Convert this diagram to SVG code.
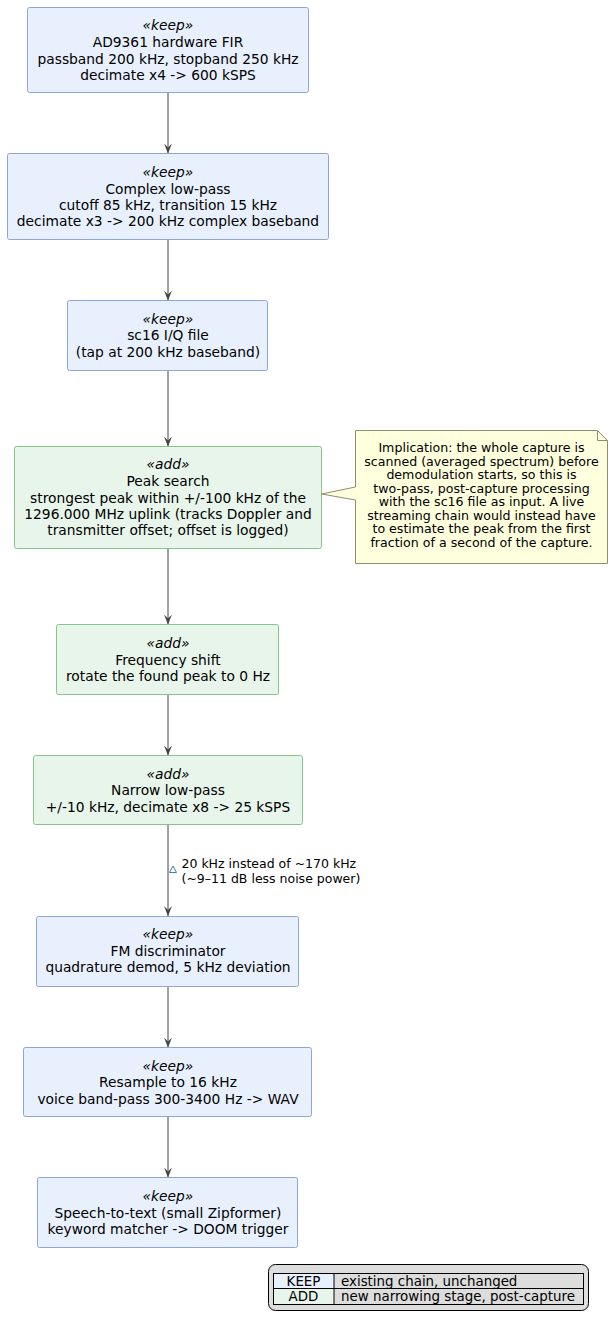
<svg xmlns="http://www.w3.org/2000/svg" width="613" height="1330" viewBox="0 0 613 1330">
<style>
text{font-family:"DejaVu Sans","Liberation Sans",sans-serif;fill:#000;}
.t{font-size:13.8px;text-anchor:middle;}
.st{font-size:13.8px;text-anchor:middle;font-style:italic;}
.keep{fill:#E8F0FD;stroke:#8DA6D6;stroke-width:1;}
.add{fill:#E8F5EA;stroke:#86C48E;stroke-width:1;}
.note{fill:#FEFFDD;stroke:#8F8F6E;stroke-width:1;}
.nt{font-size:12.6px;text-anchor:middle;}
.lbl{font-size:12.5px;}
.lg{font-size:13.4px;}
.edge{stroke:#444;stroke-width:1;fill:none;marker-end:url(#ah);}
</style>
<defs>
<marker id="ah" markerUnits="userSpaceOnUse" markerWidth="10" markerHeight="10" viewBox="0 0 10 10" refX="10" refY="5" orient="auto">
<path d="M0,1 L10,5 L0,9 L4,5 Z" fill="#444"/>
</marker>
</defs>
<rect width="613" height="1330" fill="#fff"/>
<g id="connectors">
<line class="edge" x1="168" y1="92.5" x2="168" y2="153.5"/>
<line class="edge" x1="168" y1="239.5" x2="168" y2="300.5"/>
<line class="edge" x1="168" y1="370.5" x2="168" y2="446.5"/>
<line class="edge" x1="168" y1="548.5" x2="168" y2="624.5"/>
<line class="edge" x1="168" y1="694.5" x2="168" y2="755.5"/>
<line class="edge" x1="168" y1="824.5" x2="168" y2="916"/>
<line class="edge" x1="168" y1="986.5" x2="168" y2="1047.5"/>
<line class="edge" x1="168" y1="1116.5" x2="168" y2="1177.5"/>
<polygon points="173,866 169.5,872.5 176.5,872.5" fill="none" stroke="#3B7BC0" stroke-width="1"/>
<text class="lbl" x="181.5" y="867.5">20 kHz instead of ~170 kHz</text>
<text class="lbl" x="181.5" y="882.5">(~9–11 dB less noise power)</text>
</g>
<g id="n1">
<rect class="keep" x="27.5" y="7.5" width="281" height="85" rx="2"/>
<text class="st" x="168" y="30">«keep»</text>
<text class="t" x="168" y="47">AD9361 hardware FIR</text>
<text class="t" x="168" y="64">passband 200 kHz, stopband 250 kHz</text>
<text class="t" x="168" y="80">decimate x4 -&gt; 600 kSPS</text>
</g>
<g id="n2">
<rect class="keep" x="7.5" y="153.5" width="321" height="86" rx="2"/>
<text class="st" x="168" y="177">«keep»</text>
<text class="t" x="168" y="193.5">Complex low-pass</text>
<text class="t" x="168" y="210">cutoff 85 kHz, transition 15 kHz</text>
<text class="t" x="168" y="226">decimate x3 -&gt; 200 kHz complex baseband</text>
</g>
<g id="n3">
<rect class="keep" x="67.5" y="300.5" width="200" height="70" rx="2"/>
<text class="st" x="168" y="324">«keep»</text>
<text class="t" x="168" y="340">sc16 I/Q file</text>
<text class="t" x="168" y="357">(tap at 200 kHz baseband)</text>
</g>
<g id="n4">
<rect class="add" x="14.5" y="446.5" width="307" height="102" rx="2"/>
<text class="st" x="168" y="468.5">«add»</text>
<text class="t" x="168" y="485.5">Peak search</text>
<text class="t" x="168" y="502.5">strongest peak within +/-100 kHz of the</text>
<text class="t" x="168" y="518.5">1296.000 MHz uplink (tracks Doppler and</text>
<text class="t" x="168" y="535">transmitter offset; offset is logged)</text>
</g>
<g id="note">
<path class="note" d="M355.5,430.5 H597.5 L607.5,440.5 V563.5 H355.5 V500 L321.5,494 L355.5,487 Z"/>
<path d="M597.5,430.5 V440.5 H607.5" fill="none" stroke="#8F8F6E" stroke-width="1"/>
<text class="nt" x="481.5" y="452">Implication: the whole capture is</text>
<text class="nt" x="481.5" y="465.5">scanned (averaged spectrum) before</text>
<text class="nt" x="481.5" y="479">demodulation starts, so this is</text>
<text class="nt" x="481.5" y="492.5">two-pass, post-capture processing</text>
<text class="nt" x="481.5" y="506">with the sc16 file as input. A live</text>
<text class="nt" x="481.5" y="519.5">streaming chain would instead have</text>
<text class="nt" x="481.5" y="533">to estimate the peak from the first</text>
<text class="nt" x="481.5" y="546.5">fraction of a second of the capture.</text>
</g>
<g id="n5">
<rect class="add" x="56.5" y="624.5" width="222" height="70" rx="2"/>
<text class="st" x="168" y="648">«add»</text>
<text class="t" x="168" y="664.5">Frequency shift</text>
<text class="t" x="168" y="680.5">rotate the found peak to 0 Hz</text>
</g>
<g id="n6">
<rect class="add" x="33.5" y="755.5" width="269" height="69" rx="2"/>
<text class="st" x="168" y="778.5">«add»</text>
<text class="t" x="168" y="794.5">Narrow low-pass</text>
<text class="t" x="168" y="811.5">+/-10 kHz, decimate x8 -&gt; 25 kSPS</text>
</g>
<g id="n7">
<rect class="keep" x="36.5" y="916.5" width="262" height="70" rx="2"/>
<text class="st" x="168" y="939">«keep»</text>
<text class="t" x="168" y="955.5">FM discriminator</text>
<text class="t" x="168" y="972">quadrature demod, 5 kHz deviation</text>
</g>
<g id="n8">
<rect class="keep" x="23.5" y="1047.5" width="288" height="69" rx="2"/>
<text class="st" x="168" y="1071">«keep»</text>
<text class="t" x="168" y="1087">Resample to 16 kHz</text>
<text class="t" x="168" y="1103.5">voice band-pass 300-3400 Hz -&gt; WAV</text>
</g>
<g id="n9">
<rect class="keep" x="37.5" y="1177.5" width="260" height="70" rx="2"/>
<text class="st" x="168" y="1200.5">«keep»</text>
<text class="t" x="168" y="1217.5">Speech-to-text (small Zipformer)</text>
<text class="t" x="168" y="1234">keyword matcher -&gt; DOOM trigger</text>
</g>
<g id="legend">
<rect x="268.5" y="1264.5" width="320" height="46" rx="7" fill="#DDDDDD" stroke="#000" stroke-width="1"/>
<rect x="273.5" y="1273.5" width="60.5" height="15" fill="#E8F0FD"/>
<rect x="273.5" y="1288.5" width="60.5" height="16" fill="#E8F5EA"/>
<rect x="273.5" y="1273.5" width="310" height="31" fill="none" stroke="#000" stroke-width="1"/>
<line x1="273.5" y1="1288.5" x2="583.5" y2="1288.5" stroke="#000" stroke-width="1"/>
<line x1="334" y1="1273.5" x2="334" y2="1304.5" stroke="#000" stroke-width="1"/>
<text class="lg" x="303.5" y="1285.5" text-anchor="middle">KEEP</text>
<text class="lg" x="303.5" y="1301" text-anchor="middle">ADD</text>
<text class="lg" x="341" y="1285.5">existing chain, unchanged</text>
<text class="lg" x="341" y="1301">new narrowing stage, post-capture</text>
</g>
</svg>
